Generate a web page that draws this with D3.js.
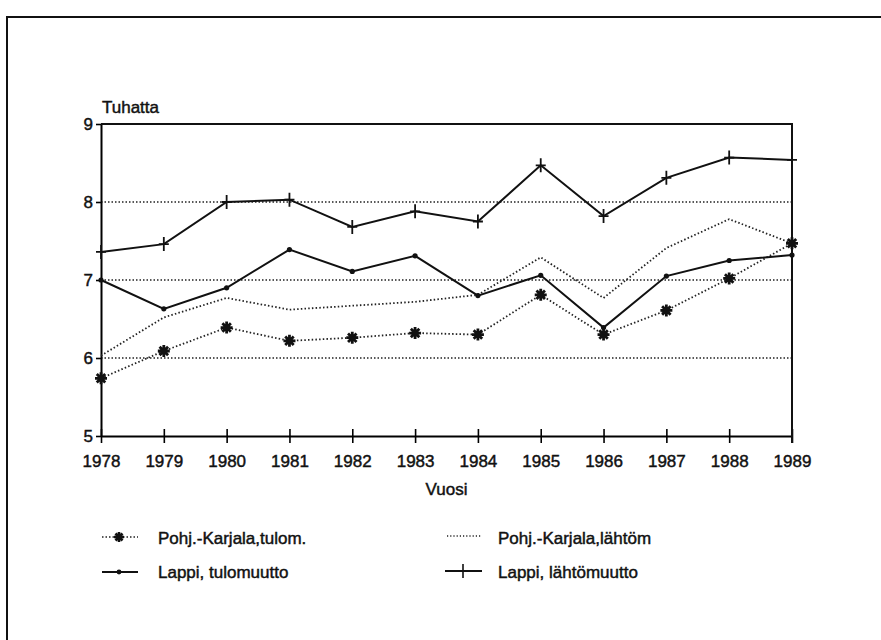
<!DOCTYPE html>
<html>
<head>
	<title>muutto</title>
	<style>
		body{ margin:0; background:#fff; }
		text{
			font-family: "Liberation Sans", Arial, sans-serif;
			font-size: 17px;
			fill: #111;
			stroke: #111;
			stroke-width: 0.45px;
		}
		.grid{ stroke:#222; stroke-width:1.6; stroke-dasharray:1.5,2; }
		.frame{ stroke:#111; stroke-width:2; fill:none; }
	</style>
	<script src="https://d3js.org/d3.v7.min.js"></script>
</head>
<body>
<svg width="881" height="640"></svg>
<script>

	// data (thousands)
	var years = [1978,1979,1980,1981,1982,1983,1984,1985,1986,1987,1988,1989];
	var pkTulo = [5.74,6.09,6.39,6.22,6.26,6.32,6.30,6.81,6.30,6.61,7.02,7.47];
	var pkLahto = [6.03,6.52,6.77,6.62,6.67,6.72,6.81,7.29,6.77,7.41,7.78,7.47];
	var lappiTulo = [7.00,6.63,6.90,7.39,7.11,7.31,6.80,7.06,6.39,7.05,7.25,7.32];
	var lappiLahto = [7.36,7.46,8.00,8.03,7.68,7.88,7.75,8.47,7.82,8.31,8.57,8.54];
	var yTicks = [5,6,7,8,9];
	var gridVals = [6,7,8];
	var seriesNames = ["Pohj.-Karjala,tulom.","Pohj.-Karjala,lähtöm","Lappi, tulomuutto","Lappi, lähtömuutto"];

	var svg = d3.select("svg");

	var x = d3.scaleLinear().domain([1978,1989]).range([101,792]),
	    y = d3.scaleLinear().domain([5,9]).range([436,124]);

	// outer frame of the scanned page
	svg.append("path")
	   .attr("class","frame")
	   .attr("d","M7,640 L7,17 L881,17");

	// gridlines
	svg.selectAll(".grid")
	   .data(gridVals)
	   .enter().append("line")
	   .attr("class","grid")
	   .attr("x1",x(1978)).attr("x2",x(1989))
	   .attr("y1",function(d){return y(d);})
	   .attr("y2",function(d){return y(d);});

	// axes
	var gx = svg.append("g")
	   .attr("transform","translate(0,"+y(5)+")")
	   .call(d3.axisBottom(x).tickValues(years).tickFormat(d3.format("d")).tickSizeInner(7).tickSizeOuter(0).tickPadding(12));
	gx.selectAll(".tick line").attr("y1",-7).attr("stroke-width",1.6);
	gx.select(".domain").attr("stroke-width",2);

	var gy = svg.append("g")
	   .attr("transform","translate("+x(1978)+",0)")
	   .call(d3.axisLeft(y).tickValues(yTicks).tickFormat(d3.format("d")).tickSizeInner(5).tickSizeOuter(0).tickPadding(3));
	gy.select(".domain").attr("stroke-width",2);
	gy.selectAll(".tick line").attr("stroke-width",1.6);
	svg.selectAll(".tick text").attr("fill","#111").style("font-size","17px");

	// top and right border of plot
	svg.append("path")
	   .attr("class","frame")
	   .attr("d","M"+x(1978)+","+y(9)+" L"+x(1989)+","+y(9)+" L"+x(1989)+","+(y(5)+7));

	svg.append("text").attr("x",102).attr("y",113).text("Tuhatta");
	svg.append("text").attr("x",(x(1978)+x(1989))/2).attr("y",495).attr("text-anchor","middle").text("Vuosi");

	var line = d3.line()
	   .x(function(d,i){return x(years[i]);})
	   .y(function(d){return y(d);});

	function asterisk(cx,cy,r){
		var p = "";
		for(var a=0;a<4;a++){
			var t = a*Math.PI/4, dx = r*Math.cos(t), dy = r*Math.sin(t);
			p += "M"+(cx-dx)+","+(cy-dy)+"L"+(cx+dx)+","+(cy+dy);
		}
		return p;
	}
	function plus(cx,cy){
		return "M"+(cx-5)+","+cy+"L"+(cx+5)+","+cy+"M"+cx+","+(cy-7)+"L"+cx+","+(cy+7);
	}

	// Pohj.-Karjala lahtom
	svg.append("path").datum(pkLahto)
	   .attr("d",line).attr("fill","none").attr("stroke","#222")
	   .attr("stroke-width",1.8).attr("stroke-dasharray","1.5,2.2");

	// Pohj.-Karjala tulom
	svg.append("path").datum(pkTulo)
	   .attr("d",line).attr("fill","none").attr("stroke","#222")
	   .attr("stroke-width",1.8).attr("stroke-dasharray","1.5,2.2");
	svg.selectAll(".ast").data(pkTulo).enter().append("path")
	   .attr("class","ast")
	   .attr("d",function(d,i){return asterisk(x(years[i]),y(d),6);})
	   .attr("stroke","#111").attr("stroke-width",2.8);

	// Lappi tulomuutto
	svg.append("path").datum(lappiTulo)
	   .attr("d",line).attr("fill","none").attr("stroke","#111").attr("stroke-width",2);
	svg.selectAll(".dot").data(lappiTulo).enter().append("circle")
	   .attr("class","dot")
	   .attr("cx",function(d,i){return x(years[i]);})
	   .attr("cy",function(d){return y(d);})
	   .attr("r",2.6).attr("fill","#111");

	// Lappi lahtomuutto
	svg.append("path").datum(lappiLahto)
	   .attr("d",line).attr("fill","none").attr("stroke","#111").attr("stroke-width",2);
	svg.selectAll(".pl").data(lappiLahto).enter().append("path")
	   .attr("class","pl")
	   .attr("d",function(d,i){return plus(x(years[i]),y(d));})
	   .attr("stroke","#111").attr("stroke-width",1.8);

	// legend
	var lg = svg.append("g");
	lg.append("line").attr("x1",102).attr("x2",138).attr("y1",537).attr("y2",537)
	  .attr("stroke","#222").attr("stroke-width",1.5).attr("stroke-dasharray","1.5,2");
	lg.append("path").attr("d",asterisk(119,537,5)).attr("stroke","#111").attr("stroke-width",2.6);
	lg.append("text").attr("x",158).attr("y",544).text(seriesNames[0]);

	lg.append("line").attr("x1",447).attr("x2",482).attr("y1",536).attr("y2",536)
	  .attr("stroke","#222").attr("stroke-width",1.3).attr("stroke-dasharray","1.2,2");
	lg.append("text").attr("x",498).attr("y",544).text(seriesNames[1]);

	lg.append("line").attr("x1",102).attr("x2",138).attr("y1",572).attr("y2",572)
	  .attr("stroke","#111").attr("stroke-width",2);
	lg.append("circle").attr("cx",119).attr("cy",572).attr("r",2.4).attr("fill","#111");
	lg.append("text").attr("x",158).attr("y",578).text(seriesNames[2]);

	lg.append("line").attr("x1",445).attr("x2",482).attr("y1",571).attr("y2",571)
	  .attr("stroke","#111").attr("stroke-width",2);
	lg.append("path").attr("d",plus(463,571)).attr("stroke","#111").attr("stroke-width",1.6);
	lg.append("text").attr("x",498).attr("y",578).text(seriesNames[3]);

</script>
</body>
</html>
